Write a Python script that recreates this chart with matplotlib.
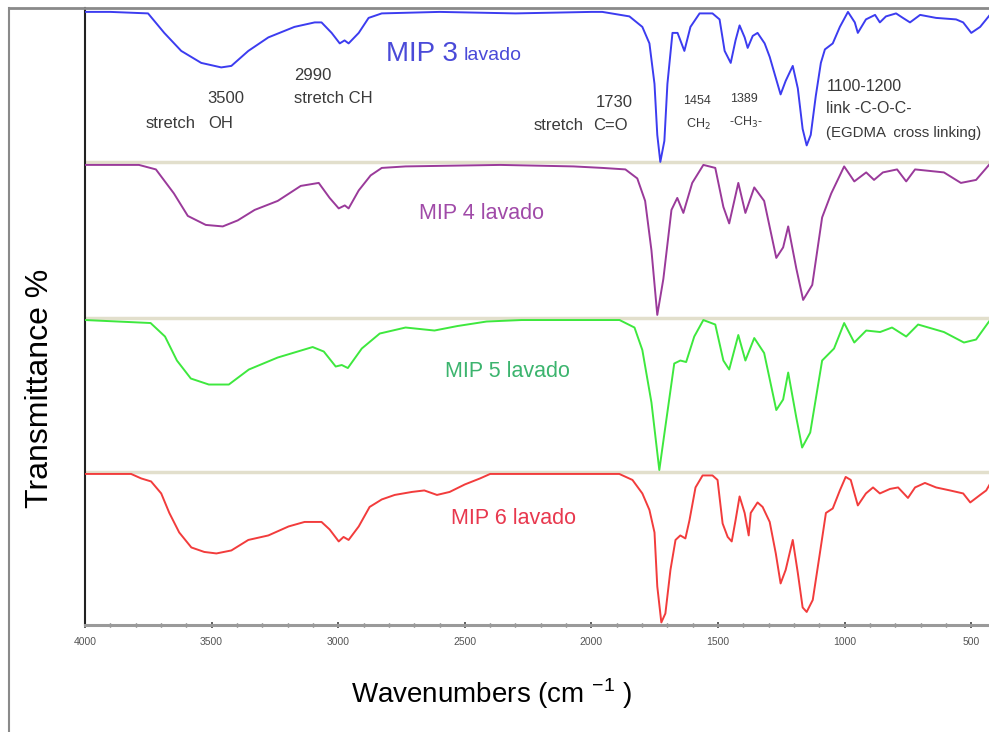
import numpy as np
import matplotlib
matplotlib.use("Agg")
import matplotlib.pyplot as plt
from matplotlib.lines import Line2D
from matplotlib.ticker import MultipleLocator

plt.rcParams["font.family"] = ["Liberation Sans", "DejaVu Sans"]

# FTIR spectra, % transmittance (100 = top of each band)
blue_wn = [4000, 3900, 3751, 3687, 3620, 3541, 3462, 3422, 3355, 3276, 3173, 3093, 3066,
           3026, 2994, 2975, 2959, 2919, 2880, 2828, 2600, 2300, 2000, 1957, 1850, 1799,
           1771, 1751, 1740, 1728, 1712, 1700, 1680, 1660, 1633, 1609, 1573, 1522, 1494,
           1474, 1450, 1431, 1415, 1395, 1383, 1363, 1344, 1316, 1296, 1272, 1253, 1233,
           1205, 1185, 1166, 1150, 1134, 1114, 1094, 1078, 1047, 1019, 987, 960, 948, 916,
           880, 861, 837, 797, 770, 742, 702, 639, 560, 532, 500, 465, 441, 417]
blue_T = [100, 100, 99, 86, 74, 66, 63, 64, 74, 83, 90, 93, 93,
          86, 79, 81, 79, 86, 96, 99, 100, 99, 100, 100, 97, 90,
          79, 52, 18, 0, 14, 52, 86, 86, 74, 90, 99, 99, 95,
          74, 66, 81, 91, 83, 76, 84, 86, 79, 70, 56, 45, 54,
          64, 49, 22, 11, 18, 44, 66, 75, 79, 90, 100, 93, 86, 95,
          98, 93, 97, 99, 96, 93, 98, 96, 95, 93, 86, 90, 95, 100]

purple_wn = [4000, 3787, 3720, 3649, 3594, 3523, 3456, 3397, 3330, 3239, 3148, 3077, 3034,
             2998, 2974, 2959, 2919, 2872, 2828, 2734, 2360, 2071, 1957, 1866, 1819, 1788,
             1763, 1740, 1716, 1684, 1661, 1637, 1602, 1558, 1511, 1479, 1456, 1420, 1392,
             1357, 1318, 1270, 1243, 1223, 1191, 1164, 1128, 1089, 1053, 1002, 962, 915,
             884, 849, 793, 757, 722, 608, 541, 481, 430]
purple_T = [100, 100, 97, 81, 66, 60, 59, 63, 70, 76, 86, 88, 78,
            71, 73, 71, 83, 93, 98, 99, 100, 99, 98, 97, 91, 76,
            43, 0, 24, 70, 78, 68, 88, 100, 98, 72, 61, 88, 68,
            85, 76, 38, 45, 59, 31, 10, 20, 65, 81, 99, 89, 95,
            90, 95, 97, 89, 97, 95, 88, 90, 100]

green_wn = [4000, 3741, 3684, 3637, 3582, 3511, 3432, 3353, 3239, 3101, 3057, 3010, 2986,
            2962, 2907, 2836, 2734, 2620, 2529, 2414, 2276, 1889, 1830, 1799, 1763, 1732,
            1708, 1673, 1649, 1626, 1594, 1558, 1511, 1479, 1456, 1420, 1392, 1357, 1318,
            1270, 1243, 1223, 1191, 1168, 1136, 1089, 1042, 1002, 962, 915, 860, 813, 757,
            710, 608, 529, 481, 430]
green_T = [100, 98, 89, 73, 61, 57, 57, 67, 75, 82, 79, 69, 70,
           68, 81, 91, 95, 93, 96, 99, 100, 100, 95, 80, 45, 0,
           29, 71, 73, 72, 89, 100, 97, 73, 67, 90, 73, 88, 78,
           40, 47, 65, 35, 15, 25, 73, 81, 98, 85, 93, 92, 95, 89,
           97, 92, 85, 87, 99]

red_wn = [4000, 3818, 3778, 3739, 3699, 3667, 3628, 3580, 3529, 3481, 3422, 3355, 3276,
          3196, 3133, 3066, 3034, 2998, 2979, 2959, 2919, 2876, 2828, 2777, 2709, 2660,
          2610, 2560, 2500, 2440, 2400, 1957, 1890, 1838, 1799, 1771, 1751, 1740, 1724,
          1708, 1688, 1668, 1649, 1629, 1613, 1589, 1561, 1522, 1502, 1482, 1462, 1446,
          1431, 1415, 1395, 1379, 1371, 1344, 1324, 1296, 1272, 1253, 1233, 1205, 1185,
          1166, 1150, 1126, 1098, 1074, 1047, 1019, 996, 976, 948, 916, 888, 861, 821,
          789, 750, 722, 683, 639, 584, 532, 504, 465, 441, 417]
red_T = [100, 100, 97, 95, 87, 74, 61, 51, 48, 47, 49, 56, 59,
         65, 68, 68, 63, 55, 58, 56, 65, 78, 83, 86, 88, 89,
         86, 88, 93, 97, 100, 100, 100, 96, 87, 76, 61, 25, 1,
         7, 36, 56, 59, 57, 69, 91, 99, 99, 96, 67, 58, 55,
         69, 85, 74, 59, 74, 81, 78, 68, 47, 27, 36, 56, 34,
         11, 8, 16, 47, 74, 77, 89, 98, 96, 79, 87, 91, 87, 90,
         91, 84, 91, 94, 91, 89, 87, 81, 86, 89, 96]

sample_names = ["MIP 3", "MIP 4 lavado", "MIP 5 lavado", "MIP 6 lavado"]
offsets = [308.7, 206.7, 103.3, 0.7]
line_colors = ["#3c3cf0", "#9a3a9a", "#3ee83e", "#f23c3c"]
text_colors = ["#4a4ad8", "#a04aa8", "#3cb46e", "#e8384e"]

fig = plt.figure(figsize=(9.89, 7.32), dpi=100)
ax = fig.add_axes([85 / 989, 1 - 625 / 732, 1 - 85 / 989, 617 / 732])

# separators between the stacked spectra
for ysep in [308.7, 204.7, 102.0]:
    ax.axhline(ysep, color="#e2dfcc", lw=2.5, zorder=1)

series = [(blue_wn, blue_T), (purple_wn, purple_T), (green_wn, green_T), (red_wn, red_T)]
for (wn, T), off, c in zip(series, offsets, line_colors):
    ax.plot(wn, np.array(T) + off, color=c, lw=1.4, zorder=3, solid_joinstyle="round")

ax.set_xlim(4000, 430)
ax.set_ylim(0, 411.3)
ax.xaxis.set_major_locator(MultipleLocator(500))
ax.xaxis.set_minor_locator(MultipleLocator(100))
ax.set_yticks([])
ax.tick_params(axis="x", which="major", direction="inout", length=5, width=1.2,
               color="#444444", labelsize=7.5, labelcolor="#555555", pad=6)
ax.tick_params(axis="x", which="minor", direction="inout", length=3.5, width=1,
               color="#555555")
for s in ["top", "right"]:
    ax.spines[s].set_visible(False)
ax.spines["left"].set_color("#222222")
ax.spines["left"].set_linewidth(1.5)
ax.spines["bottom"].set_color("#9a9a9a")
ax.spines["bottom"].set_linewidth(2.2)

# sample labels
ax.text(2813, 380.7, "MIP 3", color=text_colors[0], fontsize=20, va="center")
ax.text(2505, 379.5, "lavado", color=text_colors[0], fontsize=14, va="center")
label_pos = [(2680, 274.0), (2577, 168.7), (2553, 70.7)]
for (x, y), name, c in zip(label_pos, sample_names[1:], text_colors[1:]):
    ax.text(x, y, name, color=c, fontsize=15.5, va="center")

# band assignments
ann = "#3a3a3a"
ax.text(3759, 334.0, "stretch", color=ann, fontsize=12, va="center")
ax.text(3515, 350.7, "3500", color=ann, fontsize=12, va="center")
ax.text(3515, 334.0, "OH", color=ann, fontsize=12, va="center")
ax.text(3176, 366.0, "2990", color=ann, fontsize=12, va="center")
ax.text(3176, 350.7, "stretch CH", color=ann, fontsize=12, va="center")
ax.text(1838, 348.0, "1730", color=ann, fontsize=12, va="center", ha="right")
ax.text(2229, 333.3, "stretch", color=ann, fontsize=12, va="center")
ax.text(1992, 333.3, "C=O", color=ann, fontsize=12, va="center")
ax.text(1637, 349.0, "1454", color=ann, fontsize=9, va="center")
ax.text(1625, 334.0, "CH$_2$", color=ann, fontsize=9, va="center")
ax.text(1452, 350.7, "1389", color=ann, fontsize=9, va="center")
ax.text(1456, 335.0, "-CH$_3$-", color=ann, fontsize=9, va="center")
ax.text(1072, 359.3, "1100-1200", color=ann, fontsize=11.5, va="center")
ax.text(1072, 344.0, "link -C-O-C-", color=ann, fontsize=11.5, va="center")
ax.text(1072, 328.0, "(EGDMA  cross linking)", color=ann, fontsize=10.8, va="center")

# axis titles
fig.text(40 / 989, 1 - 388 / 732, "Transmittance %", rotation=90, fontsize=23,
         ha="center", va="center")
fig.text(492 / 989, 1 - 694 / 732, "Wavenumbers (cm $^{\\mathregular{-1}}$ )", fontsize=20,
         ha="center", va="center")

# screenshot frame
fig.add_artist(Line2D([9 / 989, 9 / 989], [0, 1 - 8 / 732], color="#8a8a8a", lw=1.5))
fig.add_artist(Line2D([9 / 989, 1], [1 - 8 / 732, 1 - 8 / 732], color="#8a8a8a", lw=2))

fig.savefig("out.png", dpi=100)
